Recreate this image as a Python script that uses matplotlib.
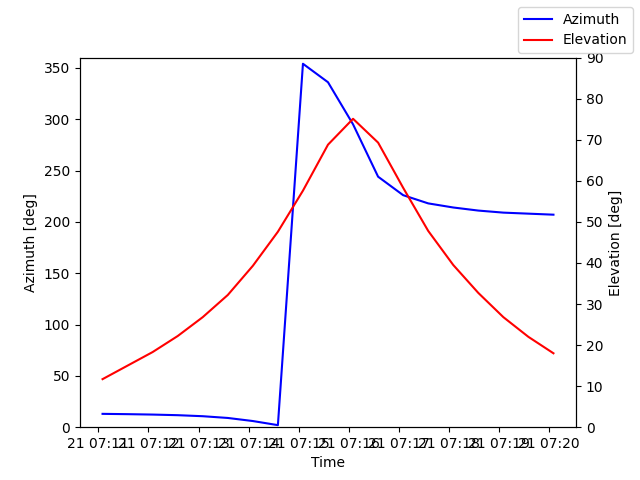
import numpy as np
import matplotlib
matplotlib.use("Agg")
import matplotlib.pyplot as plt
import matplotlib.dates as mdates

start = np.datetime64("2024-01-21T07:11:05")
times = start + np.arange(19) * np.timedelta64(30, "s")
azimuth = [13, 12.7, 12.3, 11.7, 10.7, 9, 6, 2, 354, 336, 295, 244, 226, 218, 214, 211, 209, 208, 207]
elevation = [11.7, 15, 18.3, 22.2, 26.8, 32.2, 39.3, 47.6, 57.6, 68.8, 75.1, 69.3, 58.3, 47.8, 39.5, 32.7, 26.8, 22, 18]

fig, ax = plt.subplots(figsize=(6.4, 4.8), dpi=100)
ax.plot(times, azimuth, color="blue", label="Azimuth")
ax.set_ylim(0, 360)
ax.set_xlabel("Time")
ax.set_ylabel("Azimuth [deg]")
ax.xaxis.set_major_locator(mdates.MinuteLocator())
ax.xaxis.set_major_formatter(mdates.DateFormatter("%d %H:%M"))

ax2 = ax.twinx()
ax2.plot(times, elevation, color="red", label="Elevation")
ax2.set_ylim(0, 90)
ax2.set_ylabel("Elevation [deg]")

fig.legend(loc="upper right")
fig.savefig("out.png")
